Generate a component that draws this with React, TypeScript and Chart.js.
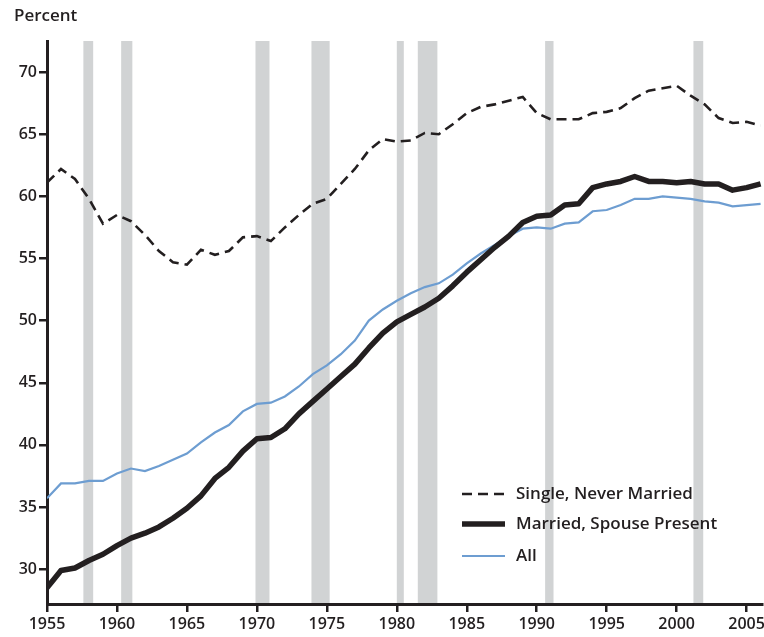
import React, { useEffect, useRef } from 'react';
import { Chart, registerables } from 'chart.js';

Chart.register(...registerables);

const years = [
  1955, 1956, 1957, 1958, 1959, 1960, 1961, 1962, 1963, 1964,
  1965, 1966, 1967, 1968, 1969, 1970, 1971, 1972, 1973, 1974,
  1975, 1976, 1977, 1978, 1979, 1980, 1981, 1982, 1983, 1984,
  1985, 1986, 1987, 1988, 1989, 1990, 1991, 1992, 1993, 1994,
  1995, 1996, 1997, 1998, 1999, 2000, 2001, 2002, 2003, 2004,
  2005, 2006,
];

const singleNeverMarried = [
  61.1, 62.2, 61.4, 59.8, 57.8, 58.5, 58.0, 56.9, 55.6, 54.7,
  54.5, 55.7, 55.3, 55.6, 56.7, 56.8, 56.4, 57.5, 58.5, 59.4,
  59.8, 61.0, 62.2, 63.7, 64.6, 64.4, 64.5, 65.1, 65.0, 65.8,
  66.7, 67.2, 67.4, 67.7, 68.0, 66.7, 66.2, 66.2, 66.2, 66.7,
  66.8, 67.1, 67.9, 68.5, 68.7, 68.9, 68.1, 67.4, 66.3, 65.9,
  66.0, 65.7,
];

const marriedSpousePresent = [
  28.5, 29.9, 30.1, 30.7, 31.2, 31.9, 32.5, 32.9, 33.4, 34.1,
  34.9, 35.9, 37.3, 38.2, 39.5, 40.5, 40.6, 41.3, 42.5, 43.5,
  44.5, 45.5, 46.5, 47.8, 49.0, 49.9, 50.5, 51.1, 51.8, 52.8,
  53.9, 54.9, 55.9, 56.8, 57.9, 58.4, 58.5, 59.3, 59.4, 60.7,
  61.0, 61.2, 61.6, 61.2, 61.2, 61.1, 61.2, 61.0, 61.0, 60.5,
  60.7, 61.0,
];

const allWomen = [
  35.7, 36.9, 36.9, 37.1, 37.1, 37.7, 38.1, 37.9, 38.3, 38.8,
  39.3, 40.2, 41.0, 41.6, 42.7, 43.3, 43.4, 43.9, 44.7, 45.7,
  46.4, 47.3, 48.4, 50.0, 50.9, 51.6, 52.2, 52.7, 53.0, 53.7,
  54.6, 55.4, 56.1, 56.8, 57.4, 57.5, 57.4, 57.8, 57.9, 58.8,
  58.9, 59.3, 59.8, 59.8, 60.0, 59.9, 59.8, 59.6, 59.5, 59.2,
  59.3, 59.4,
];

const recessionStarts = [1957.6, 1960.3, 1969.9, 1973.9, 1980.0, 1981.5, 1990.6, 2001.2];
const recessionEnds = [1958.3, 1961.1, 1970.9, 1975.2, 1980.5, 1982.9, 1991.2, 2001.9];

const yTickValues = [30, 35, 40, 45, 50, 55, 60, 65, 70];
const xTickValues = [1955, 1960, 1965, 1970, 1975, 1980, 1985, 1990, 1995, 2000, 2005];

const seriesLabels = ['Single, Never Married', 'Married, Spouse Present', 'All'];

const INK = '#231f20';
const BLUE = '#6d9dd1';
const GREY = '#d1d3d4';
const FONT = '"Open Sans", Lato, sans-serif';

const toPoints = (vals: number[]) => vals.map((v, i) => ({ x: years[i], y: v }));

const decorPlugin = {
  id: 'decor',
  beforeDraw(chart: any) {
    const { ctx, chartArea, scales } = chart;
    const x = scales.x;
    ctx.save();
    ctx.fillStyle = GREY;
    recessionStarts.forEach((s, i) => {
      const x0 = x.getPixelForValue(s);
      const x1 = x.getPixelForValue(recessionEnds[i]);
      ctx.fillRect(x0, chartArea.top, x1 - x0, chartArea.bottom - chartArea.top);
    });
    ctx.restore();
  },
  afterDraw(chart: any) {
    const { ctx } = chart;
    ctx.save();
    ctx.fillStyle = INK;
    ctx.font = `600 17px ${FONT}`;
    ctx.textBaseline = 'middle';
    ctx.textAlign = 'left';
    ctx.fillText('Percent', 14, 16);

    const rows = [494, 524, 556];
    [0, 1, 2].forEach((di, r) => {
      const ds = chart.data.datasets[di];
      const y = rows[r];
      ctx.beginPath();
      ctx.strokeStyle = ds.borderColor;
      ctx.lineWidth = ds.borderWidth;
      ctx.setLineDash(ds.borderDash || []);
      ctx.lineCap = 'butt';
      ctx.moveTo(462, y);
      ctx.lineTo(505, y);
      ctx.stroke();
      ctx.setLineDash([]);
      ctx.fillStyle = INK;
      ctx.fillText(ds.label, 516, y);
    });
    ctx.restore();
  },
};

export default function App() {
  const ref = useRef<HTMLCanvasElement | null>(null);

  useEffect(() => {
    document.body.style.margin = '0';
    const canvas = ref.current;
    if (!canvas) return;
    const tickFont = { family: FONT, size: 16, weight: '600' };
    const chart = new Chart(canvas, {
      type: 'line',
      data: {
        datasets: [
          {
            label: seriesLabels[0],
            data: toPoints(singleNeverMarried),
            borderColor: INK,
            borderWidth: 2.6,
            borderDash: [10, 6],
            pointRadius: 0,
            tension: 0,
            order: 3,
          },
          {
            label: seriesLabels[1],
            data: toPoints(marriedSpousePresent),
            borderColor: INK,
            borderWidth: 5.5,
            borderJoinStyle: 'round',
            pointRadius: 0,
            tension: 0,
            order: 1,
          },
          {
            label: seriesLabels[2],
            data: toPoints(allWomen),
            borderColor: BLUE,
            borderWidth: 2.2,
            pointRadius: 0,
            tension: 0,
            order: 2,
          },
        ],
      } as any,
      options: {
        animation: false,
        responsive: false,
        maintainAspectRatio: false,
        events: [],
        layout: { padding: { top: 41, right: 2, left: 0, bottom: 0 } },
        plugins: {
          legend: { display: false },
          tooltip: { enabled: false },
          title: { display: false },
        },
        scales: {
          x: {
            type: 'linear',
            min: 1955,
            max: 2006.1,
            afterBuildTicks: (scale: any) => {
              scale.ticks = xTickValues.map((v) => ({ value: v }));
            },
            afterFit: (scale: any) => {
              scale.height = 33;
              scale.paddingLeft = 0;
              scale.paddingRight = 0;
            },
            ticks: {
              color: INK,
              font: tickFont,
              padding: 3,
              maxRotation: 0,
              autoSkip: false,
              callback: (v: any) => String(v),
            },
            grid: {
              display: true,
              drawOnChartArea: false,
              drawTicks: true,
              tickLength: 8,
              tickColor: INK,
              lineWidth: 2.5,
              color: INK,
            },
            border: { display: true, color: INK, width: 3 },
          },
          y: {
            type: 'linear',
            min: 27.2,
            max: 72.5,
            afterBuildTicks: (scale: any) => {
              scale.ticks = yTickValues.map((v) => ({ value: v }));
            },
            afterFit: (scale: any) => {
              scale.width = 47;
            },
            ticks: {
              color: INK,
              font: tickFont,
              padding: 2,
              callback: (v: any) => String(v),
            },
            grid: {
              display: true,
              drawOnChartArea: false,
              drawTicks: true,
              tickLength: 8,
              tickColor: INK,
              lineWidth: 2.5,
              color: INK,
            },
            border: { display: true, color: INK, width: 3 },
          },
        },
      } as any,
      plugins: [decorPlugin],
    });
    return () => chart.destroy();
  }, []);

  return (
    <div style={{ width: 764, height: 637 }}>
      <canvas ref={ref} width={764} height={637} style={{ display: 'block' }} />
    </div>
  );
}
